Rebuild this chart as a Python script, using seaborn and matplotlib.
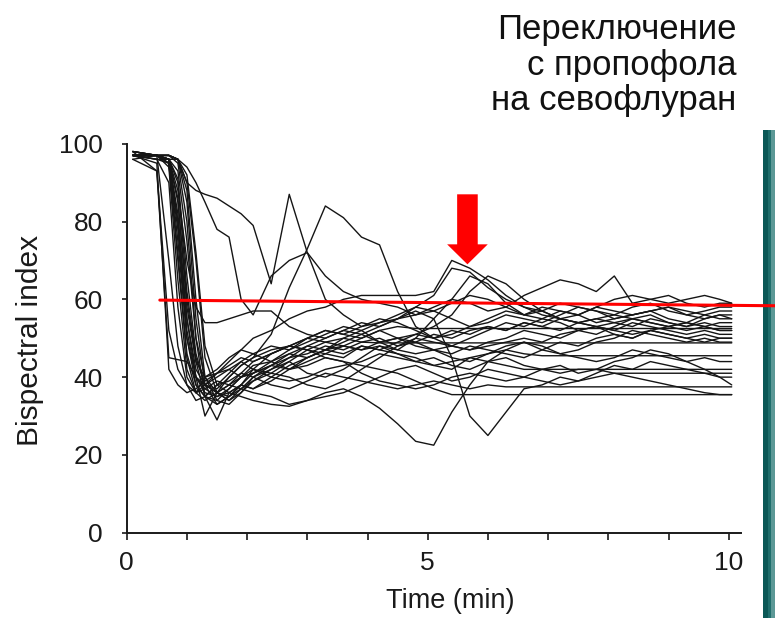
"""
BIS traces after switching from propofol to sevoflurane
=======================================================
Redraws the scanned slide: every patient trace in thin black, the red
reference line near BIS 60 and the red arrow marking the switch.

Run:
    python plot.py      -> out.png
"""

import pandas as pd
import matplotlib
matplotlib.use("Agg")
import matplotlib.pyplot as plt
import seaborn as sns
from matplotlib.patches import Rectangle
from matplotlib.ticker import MultipleLocator


# ── Data ──────────────────────────────────────────────────────────────────────

time_min = [0.1, 0.5, 0.7, 0.85, 1.0, 1.15, 1.3, 1.5, 1.7, 1.9,
            2.1, 2.4, 2.7, 3.0, 3.3, 3.6, 3.9, 4.2, 4.5, 4.8,
            5.1, 5.4, 5.7, 6.0, 6.3, 6.6, 6.9, 7.2, 7.5, 7.8,
            8.1, 8.4, 8.7, 9.0, 9.3, 9.6, 9.85, 10.05]

bis_p01 = [97, 95, 42, 38, 36, 37, 39, 41, 42, 40, 41, 43, 45, 46, 48, 47, 49, 50, 48, 49,
           51, 50, 52, 53, 52, 54, 53, 52, 54, 55, 54, 53, 55, 54, 53, 54, 53, 53]
bis_p02 = [98, 93, 45, 44.5, 44, 40, 36, 35, 37, 40, 42, 41, 44, 47, 46, 45, 48, 47, 46, 44,
           45, 43, 42, 44, 45, 43, 42, 41, 42, 42, 41, 41, 41, 41, 41, 41, 41, 41]
bis_p03 = [97, 97, 70, 48, 38, 34, 35, 38, 39, 41, 40, 43, 46, 48, 47, 50, 52, 49, 47, 50,
           55, 60, 66, 64, 59, 56, 55, 57, 56, 54, 55, 56, 57, 55, 54, 56, 55, 55]
bis_p04 = [96, 93, 52, 42, 38, 36, 40, 42, 45, 47, 46, 44, 42, 43, 45, 44, 41, 39, 38, 37,
           38, 40, 41, 40, 39, 40, 42, 43, 41, 42, 44, 45, 47, 46, 44, 42, 40, 38]
bis_p05 = [97, 97, 95, 70, 45, 36, 34, 36, 40, 43, 45, 47, 48, 50, 49, 48, 47, 48, 47, 46,
           47, 48, 47, 48, 49, 50, 49, 51, 52, 53, 52, 51, 52, 53, 54, 53, 52, 52]
bis_p06 = [98, 97, 96, 80, 55, 40, 30, 36, 38, 37, 39, 42, 44, 41, 40, 42, 45, 48, 46, 45,
           43, 42, 45, 46, 47, 46, 45.5, 45.5, 45.5, 45.5, 45.5, 45.5, 45.5, 45.5, 45.5, 45.5,
           45.5, 45.5]
bis_p07 = [97, 97, 96, 88, 70, 58, 54, 54, 55, 56, 57, 57, 53, 51, 50, 52, 51, 49, 50, 48,
           47, 46, 48, 47, 46, 45, 47, 49, 48, 50, 51, 50, 52, 51, 50, 51, 50, 50]
bis_p08 = [97, 96, 96, 75, 50, 38, 35, 33, 35, 38, 42, 46, 48, 47, 45, 44, 43, 42, 41, 39,
           37, 35.5, 35.5, 35.5, 35.5, 35.5, 35.5, 35.5, 35.5, 35.5, 35.5, 35.5, 35.5, 35.5,
           35.5, 35.5, 35.5, 35.5]
bis_p09 = [97, 97, 94, 65, 42, 36, 37, 39, 38, 40, 43, 44, 46, 45, 47, 49, 51, 53, 55, 58,
           61, 68, 67, 63, 60, 58, 56, 55, 54, 53, 54, 55, 54, 53, 54, 53, 54, 54]
bis_p10 = [98, 97, 96, 85, 60, 44, 35, 34, 37, 40, 41, 43, 42, 44, 46, 48, 47, 49, 50, 51,
           53, 56, 62, 66, 64, 60, 57, 55, 54, 55, 56, 55, 54, 53, 52, 53, 52, 52]
bis_p11 = [97, 97, 95, 72, 46, 38, 35, 38, 41, 44, 42, 40, 39, 40, 42, 43, 44, 46, 45, 44,
           43, 44, 45, 44, 43, 42, 42, 42, 42, 42, 42, 42, 42, 42, 42, 42, 42, 42]
bis_p12 = [96, 97, 96, 90, 62, 45, 38, 36, 35, 38, 41, 44, 47, 50, 52, 51, 53, 55, 54, 52,
           50, 51, 53, 55, 57, 56, 58, 57, 56, 58, 57, 56, 57, 58, 57, 56, 57, 57]
bis_p13 = [97, 96, 95, 80, 52, 40, 37, 35, 36, 38, 37, 39, 42, 45, 47, 48, 50, 52, 50, 49,
           47, 45, 44, 46, 48, 49, 47, 46, 45, 44, 45, 47, 46, 45, 44, 45, 44, 44]
bis_p14 = [98, 97, 96, 93, 75, 50, 40, 36, 34, 36, 39, 41, 40, 38, 37, 39, 42, 45, 48, 50,
           49, 48, 50, 52, 54, 53, 55, 54, 52, 51, 53, 55, 56, 54, 53, 55, 56, 55]
bis_p15 = [97, 97, 97, 96, 88, 60, 40, 34, 33, 36, 40, 38, 37, 39, 41, 40, 39, 38, 37, 38,
           39, 38, 37, 38, 37.5, 37.5, 37.5, 37.5, 37.5, 37.5, 37.5, 37.5, 37.5, 37.5, 37.5,
           37.5, 37.5, 37.5]
bis_p16 = [97, 97, 97, 95, 80, 50, 35, 29, 36, 38, 37, 40, 43, 45, 47, 46, 48, 47, 49, 51,
           50, 52, 51, 53, 52, 54, 53, 55, 54, 53, 52, 54, 53, 52, 51, 52, 51, 51]
bis_p17 = [98, 97, 97, 96, 85, 55, 38, 33, 35, 37, 36, 35, 33, 34, 36, 37, 35, 32, 28, 23.5,
           22.5, 31, 38, 44, 47, 49, 48, 46, 47, 49, 50, 52, 51, 50, 49, 50, 49, 49]
bis_p18 = [97, 97, 96, 96, 90, 70, 45, 36, 34, 37, 40, 42, 45, 48, 50, 52, 54, 53, 55, 57,
           55, 45, 30, 25, 31, 37, 38, 40, 39, 41, 43, 42, 44, 43, 42, 41, 40, 40]
bis_p19 = [97, 97, 97, 96, 92, 72, 48, 38, 36, 35, 34, 33, 32.5, 34, 35, 36, 38, 40, 42, 43,
           41, 39, 40, 42, 41, 40, 39, 38, 39, 40, 41, 40, 39, 38, 37, 36, 35.5, 35.5]
bis_p20 = [97, 97, 97, 96, 90, 88, 87, 86, 84, 82, 79, 64, 87, 72, 60, 56, 53, 54, 56, 58,
           57, 55, 53, 54, 56, 55, 54, 56, 58, 57, 55, 56, 57, 58, 56, 55, 56, 56]
bis_p21 = [97, 97, 97, 96, 94, 90, 85, 78, 76, 60, 56, 66, 70, 72, 66, 62, 60, 59, 58, 56,
           57, 59, 61, 60, 58, 56, 57, 59, 58, 57, 56, 58, 59, 57, 56, 57, 58, 58]
bis_p22 = [97, 97, 96, 82, 55, 42, 38, 37, 40, 43, 45, 51, 63, 73, 84, 81, 76, 74, 62, 53,
           50, 48, 47, 49, 50, 52, 51, 50, 52, 53, 51, 50, 52, 51, 50, 49, 50, 50]
bis_p23 = [98, 97, 96, 86, 58, 44, 40, 41, 44, 47, 50, 52, 55, 57, 58, 60, 61, 61, 61, 61,
           62, 70, 68, 65, 61, 58, 57, 55, 56, 58, 60, 61, 60, 59, 60, 61, 60, 59]
bis_p24 = [97, 97, 95, 78, 50, 40, 38, 40, 42, 44, 46, 48, 47, 49, 51, 53, 52, 54, 55, 56,
           58, 60, 59, 57, 58, 61, 63, 65, 64, 62, 66, 59, 60, 61, 59, 58, 59, 59]
bis_p25 = [97, 97, 96, 91, 66, 46, 38, 36, 38, 41, 44, 46, 48, 50, 52, 51, 50, 52, 53, 52.5,
           52.5, 52.5, 52.5, 52.5, 52.5, 52.5, 52.5, 52.5, 52.5, 52.5, 52.5, 52.5, 52.5, 52.5,
           52.5, 52.5, 52.5, 52.5]
bis_p26 = [97, 96, 90, 58, 40, 36, 38, 41, 43, 45, 44, 46, 48, 47, 49, 50, 49, 48.8, 48.8,
           48.8, 48.8, 48.8, 48.8, 48.8, 48.8, 48.8, 48.8, 48.8, 48.8, 48.8, 48.8, 48.8, 48.8,
           48.8, 48.8, 48.8, 48.8, 48.8]

# red reference line (runs past the axes into the slide border) and switch arrow
ref_x = [0.55, 10.77]
ref_y = [59.8, 58.35]
arrow_x = 5.66
arrow_top, arrow_tip = 87.0, 69.0

title_lines = ["Переключение", "с пропофола", "на севофлуран"]
x_ticks = [0, 5, 10]
y_ticks = [0, 20, 40, 60, 80, 100]


# ── Long-form table for seaborn ───────────────────────────────────────────────

traces = {
    "P01": bis_p01, "P02": bis_p02, "P03": bis_p03, "P04": bis_p04, "P05": bis_p05,
    "P06": bis_p06, "P07": bis_p07, "P08": bis_p08, "P09": bis_p09, "P10": bis_p10,
    "P11": bis_p11, "P12": bis_p12, "P13": bis_p13, "P14": bis_p14, "P15": bis_p15,
    "P16": bis_p16, "P17": bis_p17, "P18": bis_p18, "P19": bis_p19, "P20": bis_p20,
    "P21": bis_p21, "P22": bis_p22, "P23": bis_p23, "P24": bis_p24, "P25": bis_p25,
    "P26": bis_p26,
}
df = pd.concat(
    [pd.DataFrame({"time": time_min, "bis": vals, "patient": pid}) for pid, vals in traces.items()],
    ignore_index=True,
)


# ── Plot ──────────────────────────────────────────────────────────────────────

sns.set_style("ticks")
plt.rcParams["font.family"] = ["Liberation Sans", "DejaVu Sans"]
INK = "#1a1a1a"

fig = plt.figure(figsize=(7.75, 6.18), dpi=100)
ax = fig.add_axes([0.1635, 0.138, 0.7923, 0.6294])
ax.set_facecolor("none")

sns.lineplot(data=df, x="time", y="bis", units="patient", estimator=None,
             color="#151515", lw=1.0, legend=False, ax=ax)

ax.set_xlim(0, 10.2)
ax.set_ylim(0, 100)
ax.set_xticks(x_ticks)
ax.xaxis.set_minor_locator(MultipleLocator(1))
ax.set_yticks(y_ticks)
ax.tick_params(axis="x", which="both", direction="out", length=5, width=1.2,
               pad=8.5, labelsize=19, colors=INK)
ax.tick_params(axis="y", direction="out", length=3.5, width=1.2,
               pad=13.5, labelsize=19, colors=INK)

sns.despine(ax=ax)
for side in ("left", "bottom"):
    ax.spines[side].set_linewidth(1.4)
    ax.spines[side].set_color(INK)

ax.set_xlabel("Time (min)", fontsize=19.5, color=INK)
ax.xaxis.set_label_coords(0.527, -0.142)
ax.set_ylabel("Bispectral index", fontsize=21.5, color=INK)
ax.yaxis.set_label_coords(-0.1355, 0.495)

# red reference line and arrow
ax.plot(ref_x, ref_y, color="#ff0000", lw=2.2, clip_on=False, zorder=5)
ax.arrow(arrow_x, arrow_top, 0, arrow_tip - arrow_top, width=0.342, head_width=0.675,
         head_length=5.14, length_includes_head=True, color="#ff0000", lw=0, zorder=6)

# slide caption, right aligned
for line, base_px in zip(title_lines, (39, 74.5, 110)):
    fig.text(0.9506, 1 - base_px / 618, line, ha="right", va="baseline",
             fontsize=25, color="#111111")

# teal slide border on the right
for x0, w, col in ((763, 5, "#0b5856"), (768, 3, "#1f6e6c"), (771, 4, "#5c9896")):
    fig.add_artist(Rectangle((x0 / 775, 0), w / 775, 0.79, transform=fig.transFigure,
                             color=col, lw=0, zorder=-1))

fig.savefig("out.png", dpi=100)
plt.close(fig)
print("[Plot] saved -> out.png")
